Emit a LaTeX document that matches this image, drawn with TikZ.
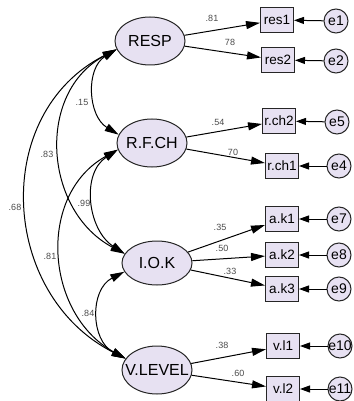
\documentclass[tikz,border=0pt]{standalone}
\usepackage{fontspec}
\setmainfont{Liberation Sans}
\usetikzlibrary{shapes.geometric,arrows.meta}
\definecolor{lav}{RGB}{231,225,242}
\newcommand\zw[1]{\makebox[0pt]{#1}}
\begin{document}
\begin{tikzpicture}[x=1pt,y=-1pt,
 latent/.style={ellipse,draw=black!85,line width=1pt,fill=lav,minimum width=70pt,minimum height=48pt,inner sep=0pt,font=\fontsize{16}{16}\selectfont},
 obs/.style={rectangle,draw=black!85,line width=1pt,fill=lav,minimum width=33pt,minimum height=25pt,inner sep=0pt,font=\fontsize{13.5}{14}\selectfont},
 err/.style={circle,draw=black!85,line width=1pt,fill=lav,minimum size=24pt,inner sep=0pt,font=\fontsize{14}{14}\selectfont},
 load/.style={-{Triangle[length=14pt,width=8pt]},line width=1pt},
 erra/.style={-{Triangle[length=10pt,width=7pt]},line width=1pt},
 cov/.style={{Triangle[length=14pt,width=8pt]}-{Triangle[length=14pt,width=8pt]},line width=1pt},
 coef/.style={font=\fontsize{9}{9}\selectfont,text=black!70,inner sep=0pt}]
\useasboundingbox[fill=white] (0,0) rectangle (353,401);
% latent variables
\node[latent] (resp) at (150,41) {\zw{RESP}};
\node[latent] (rfch) at (152,143) {\zw{R.F.CH}};
\node[latent,minimum height=44pt] (iok) at (157,263) {\zw{I.O.K}};
\node[latent] (vlev) at (157,370) {\zw{V.LEVEL}};
% observed
\node[obs] (res1) at (277,20) {res1};
\node[obs] (res2) at (278,60) {res2};
\node[obs] (rch2) at (279,121) {r.ch2};
\node[obs] (rch1) at (282,166) {r.ch1};
\node[obs] (ak1) at (282,219) {a.k1};
\node[obs] (ak2) at (282,255) {a.k2};
\node[obs] (ak3) at (282,289) {a.k3};
\node[obs] (vl1) at (283,346) {v.l1};
\node[obs] (vl2) at (283,389) {v.l2};
% errors
\node[err] (e1) at (336,21) {\zw{e1}};
\node[err] (e2) at (336,61) {\zw{e2}};
\node[err] (e5) at (337,122) {\zw{e5}};
\node[err] (e4) at (339,166) {\zw{e4}};
\node[err] (e7) at (339,219) {\zw{e7}};
\node[err] (e8) at (339,255) {\zw{e8}};
\node[err] (e9) at (339,289) {\zw{e9}};
\node[err] (e10) at (340,346) {\zw{e10}};
\node[err] (e11) at (340,389) {\zw{e11}};
% loadings
\draw[load] (resp) -- (res1);
\draw[load] (resp) -- (res2);
\draw[load] (rfch) -- (rch2);
\draw[load] (rfch) -- (rch1);
\draw[load] (iok) -- (ak1);
\draw[load] (iok) -- (ak2);
\draw[load] (iok) -- (ak3);
\draw[load] (vlev) -- (vl1);
\draw[load] (vlev) -- (vl2);
% error arrows
\foreach \e/\o in {e1/res1,e2/res2,e5/rch2,e4/rch1,e7/ak1,e8/ak2,e9/ak3,e10/vl1,e11/vl2}
  \draw[erra] (\e) -- (\o);
% loading labels
\node[coef] (l1) at (212,18) {.81};
\node[coef] (l2) at (230,42) {78};
\node[coef] (l3) at (218,122) {.54};
\node[coef] (l4) at (233,152) {70};
\node[coef] (l5) at (220,227) {.35};
\node[coef] (l6) at (222,248) {.50};
\node[coef] (l7) at (230,271) {.33};
\node[coef] (l8) at (222,345) {.38};
\node[coef] (l9) at (238,373) {.60};
% covariances
\draw[cov] (resp.194) .. controls +(-31,19) and +(-31,-19) .. (rfch.166);
\draw[cov] (resp.194) .. controls +(-81,43) and +(-81,-43) .. (iok.164);
\draw[cov] (resp.194) .. controls +(-126,64) and +(-126,-64) .. (vlev.160);
\draw[cov] (rfch.191) .. controls +(-37,24) and +(-37,-24) .. (iok.164);
\draw[cov] (rfch.191) .. controls +(-81,45) and +(-81,-45) .. (vlev.160);
\draw[cov] (iok.195) .. controls +(-35,18) and +(-35,-18) .. (vlev.160);
% covariance labels
\node[coef] (c1) at (82,102) {.15};
\node[coef] (c2) at (47,154) {.83};
\node[coef] (c3) at (15,207) {.68};
\node[coef] (c4) at (84,203) {.99};
\node[coef] (c5) at (50,256) {.81};
\node[coef] (c6) at (88,313) {.84};
\end{tikzpicture}
\end{document}
